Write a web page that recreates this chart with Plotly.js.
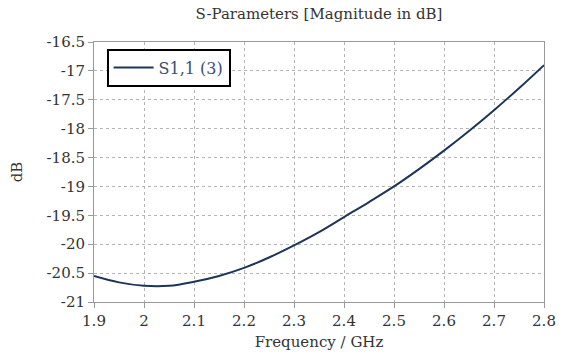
<!DOCTYPE html>
<html>
<head>
<meta charset="utf-8">
<script src="https://cdn.plot.ly/plotly-3.0.1.min.js"></script>
<style>html,body{margin:0;padding:0;background:#fff;}#chart{width:563px;height:358px;}</style>
</head>
<body>
<div id="chart"></div>
<script>
const freqGHz = [1.90,1.95,2.00,2.05,2.10,2.15,2.20,2.25,2.30,2.35,2.40,2.45,2.50,2.55,2.60,2.65,2.70,2.75,2.80];
const s11dB   = [-20.55,-20.66,-20.72,-20.72,-20.65,-20.55,-20.41,-20.23,-20.02,-19.79,-19.53,-19.27,-19.00,-18.70,-18.38,-18.04,-17.68,-17.30,-16.90];
const seriesName = 'S1,1 (3)';
const xTicks = [1.9,2.0,2.1,2.2,2.3,2.4,2.5,2.6,2.7,2.8];
const xTickText = ['1.9','2','2.1','2.2','2.3','2.4','2.5','2.6','2.7','2.8'];
const yTicks = [-21,-20.5,-20,-19.5,-19,-18.5,-18,-17.5,-17,-16.5];
const yTickText = ['-21','-20.5','-20','-19.5','-19','-18.5','-18','-17.5','-17','-16.5'];

const fontFam = 'DejaVu Serif';

const trace = {
  x: freqGHz, y: s11dB, type: 'scatter', mode: 'lines', name: seriesName,
  line: {color: '#1f3557', width: 2, shape: 'spline'}
};

const axisCommon = {
  showline: true, linecolor: '#9a9a9a', linewidth: 1, mirror: true,
  showgrid: true, gridcolor: '#b5b5b5', griddash: 'dot', gridwidth: 1,
  ticks: 'outside', ticklen: 5, tickcolor: '#9a9a9a',
  zeroline: false, tickfont: {family: fontFam, size: 15, color: '#333'}
};

const layout = {
  width: 563, height: 358,
  margin: {l: 94, r: 19, t: 42, b: 56},
  paper_bgcolor: '#fff', plot_bgcolor: '#fff',
  font: {family: fontFam, color: '#333'},
  title: {text: 'S-Parameters [Magnitude in dB]', font: {family: fontFam, size: 15, color: '#333'},
          x: 0.5, xref: 'paper', y: 0.962, yref: 'container', yanchor: 'middle'},
  xaxis: Object.assign({}, axisCommon, {
    range: [1.9, 2.8], tickvals: xTicks, ticktext: xTickText,
    title: {text: 'Frequency / GHz', font: {family: fontFam, size: 15, color: '#333'}, standoff: 7}
  }),
  yaxis: Object.assign({}, axisCommon, {
    range: [-21, -16.5], tickvals: yTicks, ticktext: yTickText,
    title: {text: 'dB', font: {family: fontFam, size: 15, color: '#333'}, standoff: 20}
  }),
  showlegend: true,
  legend: {x: 0.028, y: 0.975, xanchor: 'left', yanchor: 'top', bgcolor: '#fff',
           bordercolor: '#000', borderwidth: 2, itemwidth: 40, tracegroupgap: 0,
           font: {family: fontFam, size: 16, color: '#3a4f72'}}
};

Plotly.newPlot('chart', [trace], layout, {displayModeBar: false, staticPlot: true});
</script>
</body>
</html>
